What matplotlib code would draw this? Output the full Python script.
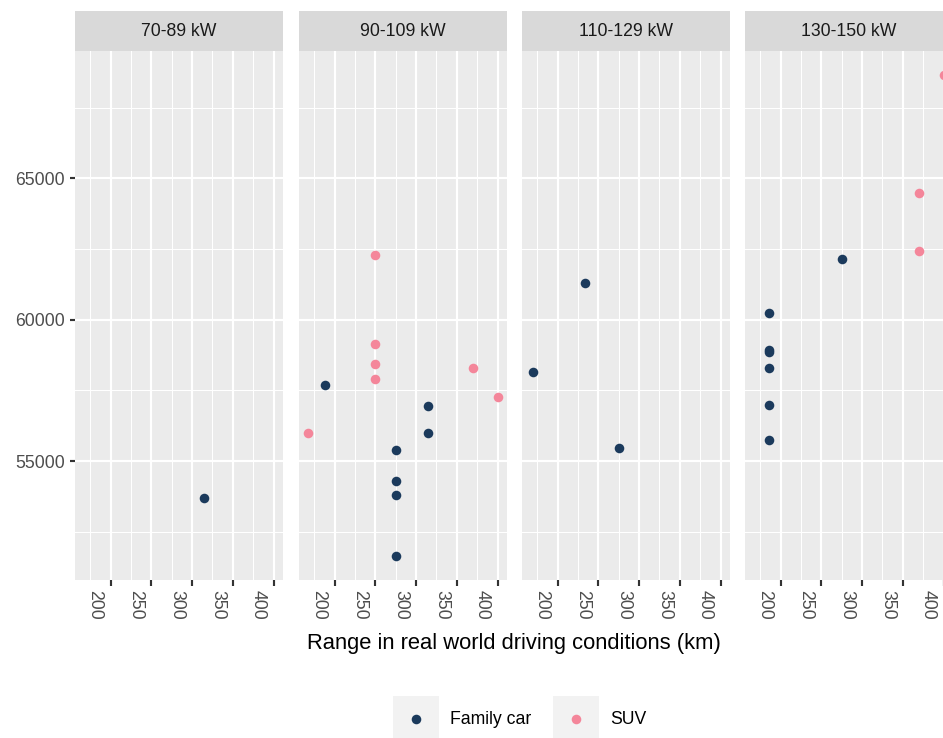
import matplotlib.pyplot as plt
import matplotlib.transforms as mtransforms
import numpy as np

plt.rcParams['font.family'] = ['Liberation Sans', 'DejaVu Sans']

# facets (motor power) and car types
facets = ['70-89 kW', '90-109 kW', '110-129 kW', '130-150 kW']
groups = ['Family car', 'SUV']
colors = {'Family car': '#1B3A5C', 'SUV': '#F4869A'}

# range in km / price, one list per facet
family_range = [[315],
                [188, 315, 315, 275, 275, 275, 275],
                [234, 170, 275],
                [186, 186, 186, 186, 186, 186, 276]]
family_price = [[53700],
                [57700, 56930, 55990, 55390, 54300, 53800, 51640],
                [61300, 58150, 55450],
                [60240, 58930, 58850, 58280, 57000, 55760, 62160]]
suv_range = [[],
             [250, 250, 250, 250, 370, 400, 168],
             [],
             [370, 370, 400]]
suv_price = [[],
             [62300, 59150, 58450, 57900, 58300, 57280, 56000],
             [],
             [64470, 62450, 68660]]

x_ticks = [200, 250, 300, 350, 400]
x_minor = [175, 225, 275, 325, 375]
y_ticks = [55000, 60000, 65000]
y_minor = [52500, 57500, 62500, 67500]

# ggplot style limits: data range + 5% each side
all_x = sum(family_range, []) + sum(suv_range, [])
all_y = sum(family_price, []) + sum(suv_price, [])
dx = (max(all_x) - min(all_x)) * 0.05
dy = (max(all_y) - min(all_y)) * 0.05
xlim = (min(all_x) - dx, max(all_x) + dx)
ylim = (min(all_y) - dy, max(all_y) + dy)

W, H = 943, 738
fig = plt.figure(figsize=(W / 144, H / 144), dpi=144)
lefts = [75, 299, 522, 745]
pw = 208
ptop, pbot = 51, 580
strip_top = 11

# rotated x labels sit a little left of their tick, as in ggplot
label_shift = mtransforms.ScaledTranslation(-7 / 144, 0, fig.dpi_scale_trans)

for i, name in enumerate(facets):
    ax = fig.add_axes([lefts[i] / W, 1 - pbot / H, pw / W, (pbot - ptop) / H])
    ax.set_facecolor('#EBEBEB')
    for s in ax.spines.values():
        s.set_visible(False)
    ax.set_xticks(x_ticks)
    ax.set_xticks(x_minor, minor=True)
    ax.set_yticks(y_ticks)
    ax.set_yticks(y_minor, minor=True)
    ax.set_xlim(xlim)
    ax.set_ylim(ylim)
    ax.grid(True, which='major', color='white', linewidth=1.07)
    ax.grid(True, which='minor', color='white', linewidth=0.53)
    ax.set_axisbelow(True)
    ax.tick_params(which='major', length=2.75, width=1.07, color='#333333',
                   labelsize=8.8, labelcolor='#4D4D4D', pad=2.2)
    ax.tick_params(which='minor', length=0)
    ax.set_xticklabels([str(t) for t in x_ticks], rotation=270, ha='right', va='top')
    for lbl in ax.get_xticklabels():
        lbl.set_transform(lbl.get_transform() + label_shift)
    if i == 0:
        ax.set_yticklabels([str(t) for t in y_ticks])
    else:
        ax.tick_params(axis='y', which='major', length=0, labelleft=False)

    ax.scatter(family_range[i], family_price[i], s=23, color=colors['Family car'],
               linewidths=0, zorder=3, clip_on=False)
    ax.scatter(suv_range[i], suv_price[i], s=23, color=colors['SUV'],
               linewidths=0, zorder=3, clip_on=False)

    # facet strip
    sax = fig.add_axes([lefts[i] / W, 1 - ptop / H, pw / W, (ptop - strip_top) / H])
    sax.set_facecolor('#D9D9D9')
    sax.set_xticks([])
    sax.set_yticks([])
    for s in sax.spines.values():
        s.set_visible(False)
    sax.text(0.5, 0.5, name, ha='center', va='center', fontsize=8.8,
             color='#1A1A1A', transform=sax.transAxes)

fig.text(514 / W, 1 - 643 / H, 'Range in real world driving conditions (km)',
         ha='center', va='center', fontsize=11, color='black')

# legend with grey key boxes
key_lefts = [393, 553]
key_size = 46
key_top = 696
for g, kl in zip(groups, key_lefts):
    kax = fig.add_axes([kl / W, 1 - (key_top + key_size) / H, key_size / W, key_size / H])
    kax.set_facecolor('#F2F2F2')
    kax.set_xlim(0, 1)
    kax.set_ylim(0, 1)
    kax.set_xticks([])
    kax.set_yticks([])
    for s in kax.spines.values():
        s.set_visible(False)
    kax.scatter([0.5], [0.5], s=23, color=colors[g], linewidths=0)
    fig.text((kl + key_size + 11) / W, 1 - 720 / H, g, ha='left', va='center',
             fontsize=8.8, color='black')

fig.savefig('out.png', dpi=144)
